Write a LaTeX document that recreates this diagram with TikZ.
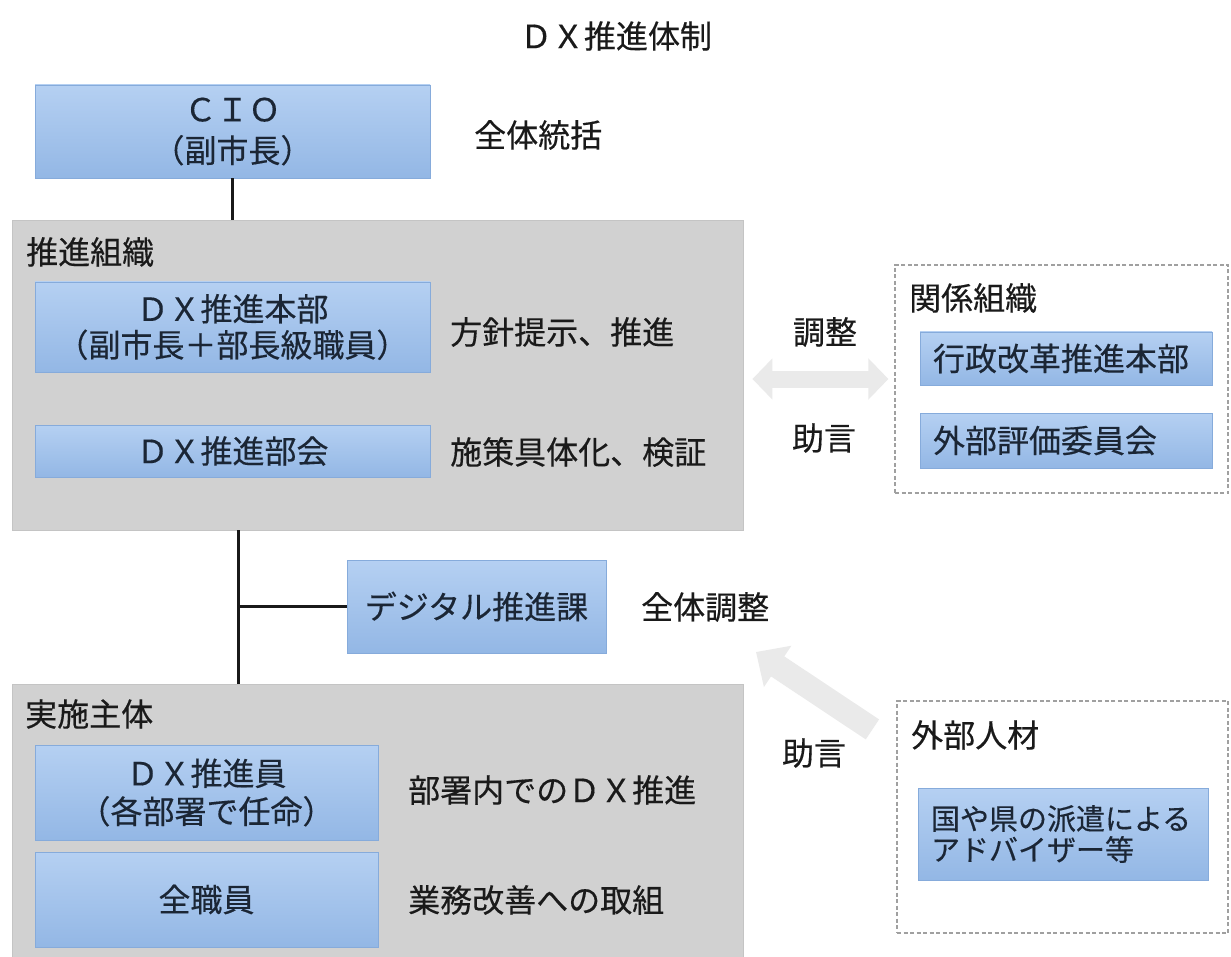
\documentclass[tikz,border=0pt]{standalone}
\usepackage{fontspec}
\setmainfont{Noto Sans CJK JP}[FakeBold=0.35]
\usetikzlibrary{arrows.meta,calc}
\definecolor{bluetop}{HTML}{B5D0F2}
\definecolor{bluebot}{HTML}{93B7E5}
\definecolor{blueedge}{HTML}{86ABDB}
\definecolor{greyfill}{HTML}{D1D1D1}
\definecolor{greyedge}{HTML}{C4C4C4}
\definecolor{dashgrey}{HTML}{A0A0A0}
\definecolor{arrowgrey}{HTML}{EAEAEA}
\definecolor{ink}{HTML}{1A1A1A}
\definecolor{boxink}{HTML}{1B2635}
\begin{document}
\begin{tikzpicture}[x=1pt,y=-1pt,
  font=\fontsize{32}{38}\selectfont, text=ink,
  bluebox/.style={rectangle, top color=bluetop, bottom color=bluebot, draw=blueedge,
    line width=0.8pt, inner sep=0pt, align=center, text=boxink},
  leftbox/.style={bluebox, align=left, inner xsep=13pt},
  greybox/.style={rectangle, fill=greyfill, draw=greyedge, line width=0.8pt, inner sep=0pt},
  dashbox/.style={rectangle, draw=dashgrey, dash pattern=on 4pt off 2.5pt, line width=1.2pt, fill=white, inner sep=0pt},
  lbl/.style={anchor=west, inner sep=0pt},
  link/.style={line width=3pt, draw=black!90},
  blockarrow/.style={draw=arrowgrey, line width=24pt},
  blockarrowtwo/.style={draw=arrowgrey, line width=17pt}]
\useasboundingbox[fill=white] (0,0) rectangle (1231,957);

% title
\node[inner sep=0pt] (title) at (616,36) {ＤＸ推進体制};

% CIO
\node[bluebox, minimum width=395pt, minimum height=93pt,
      font=\fontsize{32}{41}\selectfont] (cio) at (232.5,131.5) {ＣＩＯ\\（副市長）};
\node[lbl] (cionote) at (474,135) {全体統括};

% promotion organisation
\node[greybox, minimum width=731pt, minimum height=310pt] (grp1) at (377.5,375) {};
\node[lbl] (grp1lbl) at (26,252) {推進組織};
\node[bluebox, minimum width=395pt, minimum height=90pt,
      font=\fontsize{32}{36}\selectfont] (hq) at (232.5,327) {ＤＸ推進本部\\（副市長＋部長級職員）};
\node[lbl] (hqnote) at (450,332) {方針提示、推進};
\node[bluebox, minimum width=395pt, minimum height=52pt] (bukai) at (232.5,451) {ＤＸ推進部会};
\node[lbl] (bukainote) at (450,452) {施策具体化、検証};

% related organisations
\node[dashbox, minimum width=333pt, minimum height=228pt] (rel) at (1061.5,379) {};
\node[lbl] (rellbl) at (909,298) {関係組織};
\node[leftbox, minimum width=292pt, minimum height=53pt, text width=266pt] (rel1) at (1066,358.5) {行政改革推進本部};
\node[leftbox, minimum width=292pt, minimum height=55pt, text width=266pt] (rel2) at (1066,440.5) {外部評価委員会};
\node[inner sep=0pt] (adj) at (825,332) {調整};
\node[inner sep=0pt] (adv1) at (824,438) {助言};
\draw[blockarrowtwo, {Triangle[length=20pt,width=40pt]}-{Triangle[length=20pt,width=40pt]}]
  ($(grp1.east |- rel.west)+(9,0)$) -- ($(rel.west)+(-6,0)$);

% digital promotion section
\node[bluebox, minimum width=259pt, minimum height=93pt] (digi) at (476.5,606.5) {デジタル推進課};
\node[lbl] (diginote) at (641,607) {全体調整};

% implementing bodies
\node[greybox, minimum width=731pt, minimum height=280pt] (grp2) at (377.5,824) {};
\node[lbl] (grp2lbl) at (25,714) {実施主体};
\node[bluebox, minimum width=343pt, minimum height=95pt,
      font=\fontsize{32}{38}\selectfont] (staff) at (206.5,792.5) {ＤＸ推進員\\（各部署で任命）};
\node[lbl] (staffnote) at (408,790) {部署内でのＤＸ推進};
\node[bluebox, minimum width=343pt, minimum height=95pt] (allstaff) at (206.5,899.5) {全職員};
\node[lbl] (allnote) at (408,900) {業務改善への取組};

% connectors
\coordinate (jn) at (238,606.5);
\draw[link] (cio.south) -- (cio.south |- grp1.north);
\draw[link] (grp1.south -| jn) -- (grp2.north -| jn);
\draw[link] (jn) -- (digi.west);

% external personnel
\node[dashbox, minimum width=331pt, minimum height=232pt] (ext) at (1062.5,817) {};
\node[lbl] (extlbl) at (911,735) {外部人材};
\node[leftbox, minimum width=290pt, minimum height=92pt, text width=264pt,
      font=\fontsize{29}{31}\selectfont] (advisor) at (1063,834) {国や県の派遣による\\アドバイザー等};
\node[inner sep=0pt] (adv2) at (814,753) {助言};
\coordinate (advtip) at (756,652);
\coordinate (advtail) at ($(ext.north west)+(-24,29)$);
\draw[blockarrow, -{Triangle[length=26pt,width=48pt]}] (advtail) -- (advtip);
\end{tikzpicture}
\end{document}
